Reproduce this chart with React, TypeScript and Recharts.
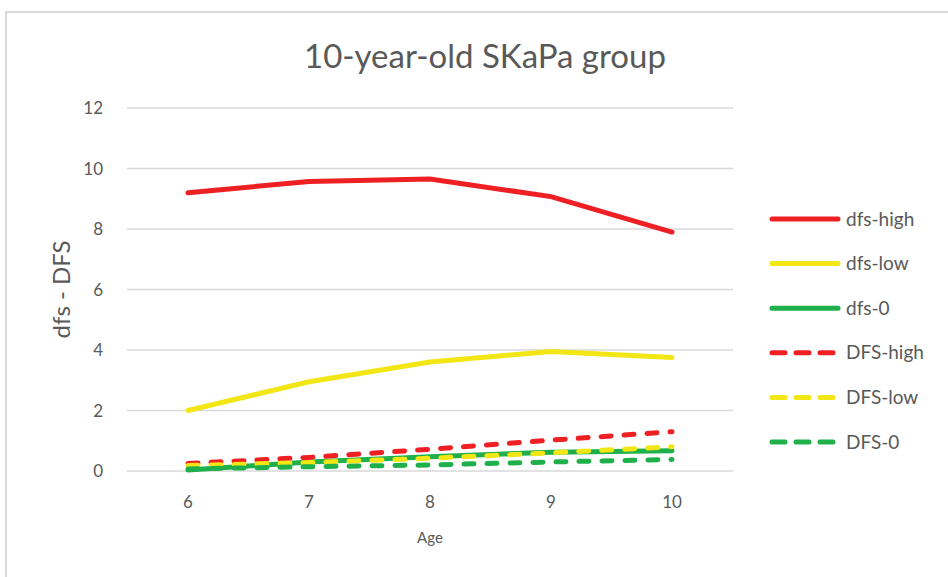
import React from "react";
import {
  LineChart,
  Line,
  XAxis,
  YAxis,
  CartesianGrid,
  Legend,
  Label,
} from "recharts";

// Mean dfs / DFS per age for the 10-year-old SKaPa group
const ages = ["6", "7", "8", "9", "10"];
const dfsHigh = [9.2, 9.57, 9.65, 9.07, 7.9];
const dfsLow = [2.0, 2.95, 3.6, 3.95, 3.75];
const dfsZero = [0.03, 0.3, 0.47, 0.62, 0.67];
const DFSHigh = [0.25, 0.45, 0.72, 1.02, 1.3];
const DFSLow = [0.18, 0.28, 0.42, 0.6, 0.8];
const DFSZero = [0.07, 0.14, 0.2, 0.3, 0.38];
const yTicks = [0, 2, 4, 6, 8, 10, 12];

const RED = "#ee2024";
const YELLOW = "#f2e614";
const GREEN = "#20b04b";
const TEXT = "#595959";
const FONT = "Lato, 'Open Sans', sans-serif";

const data = ages.map((age, i) => ({
  age,
  dfsHigh: dfsHigh[i],
  dfsLow: dfsLow[i],
  dfsZero: dfsZero[i],
  DFSHigh: DFSHigh[i],
  DFSLow: DFSLow[i],
  DFSZero: DFSZero[i],
}));

const series = [
  { key: "dfsHigh", name: "dfs-high", color: RED, dashed: false },
  { key: "dfsLow", name: "dfs-low", color: YELLOW, dashed: false },
  { key: "dfsZero", name: "dfs-0", color: GREEN, dashed: false },
  { key: "DFSHigh", name: "DFS-high", color: RED, dashed: true },
  { key: "DFSLow", name: "DFS-low", color: YELLOW, dashed: true },
  { key: "DFSZero", name: "DFS-0", color: GREEN, dashed: true },
];

// legend drawn as a stacked list, one swatch line per series
const LegendList = () => (
  <svg width={170} height={270}>
    {series.map((s, i) => {
      const y = 12 + i * 44.6;
      return (
        <g key={s.key}>
          <line
            x1={4}
            x2={70}
            y1={y}
            y2={y}
            stroke={s.color}
            strokeWidth={5}
            strokeLinecap="round"
            strokeDasharray={s.dashed ? "13 11" : undefined}
          />
          <text
            x={78}
            y={y}
            dy="0.35em"
            fontSize={19}
            fontFamily={FONT}
            fill={TEXT}
          >
            {s.name}
          </text>
        </g>
      );
    })}
  </svg>
);

export default function App() {
  return (
    <div
      style={{
        position: "absolute",
        left: 0,
        top: 0,
        width: 948,
        height: 577,
        background: "#fff",
        overflow: "hidden",
        fontFamily: FONT,
      }}
    >
      <div
        style={{
          position: "absolute",
          left: 5,
          top: 11,
          width: 960,
          height: 600,
          border: "2px solid #d9d9d9",
          boxSizing: "border-box",
        }}
      />
      <div
        style={{
          position: "absolute",
          left: 0,
          width: 970,
          top: 35,
          textAlign: "center",
          fontSize: 33,
          color: TEXT,
        }}
      >
        10-year-old SKaPa group
      </div>
      <div style={{ position: "absolute", left: 0, top: 0 }}>
        <LineChart
          width={948}
          height={577}
          data={data}
          margin={{ top: 108, right: 45, bottom: 0, left: 0 }}
        >
          <CartesianGrid
            vertical={false}
            stroke="#d9d9d9"
            strokeWidth={1.5}
          />
          <XAxis
            dataKey="age"
            height={106}
            padding={{ left: 61, right: 61 }}
            axisLine={false}
            tickLine={false}
            tickSize={0}
            tickMargin={25}
            tick={{ fill: TEXT, fontSize: 17, fontFamily: FONT }}
          >
            <Label
              value="Age"
              position="center"
              dy={14}
              fill={TEXT}
              fontSize={15}
              fontFamily={FONT}
            />
          </XAxis>
          <YAxis
            width={127}
            domain={[0, 12]}
            ticks={yTicks}
            axisLine={false}
            tickLine={false}
            tickSize={0}
            tickMargin={24}
            tick={{ fill: TEXT, fontSize: 17, fontFamily: FONT }}
          >
            <Label
              value="dfs - DFS"
              position="center"
              angle={-90}
              dx={-2}
              fill={TEXT}
              fontSize={24}
              fontFamily={FONT}
            />
          </YAxis>
          <Legend
            layout="vertical"
            verticalAlign="top"
            align="right"
            wrapperStyle={{ top: 207, left: 768, width: 170 }}
            content={<LegendList />}
          />
          {series.map((s) => (
            <Line
              key={s.key}
              type="linear"
              dataKey={s.key}
              name={s.name}
              stroke={s.color}
              strokeWidth={5}
              strokeLinecap="round"
              strokeDasharray={s.dashed ? "10 13" : undefined}
              dot={false}
              activeDot={false}
              isAnimationActive={false}
            />
          ))}
        </LineChart>
      </div>
    </div>
  );
}
